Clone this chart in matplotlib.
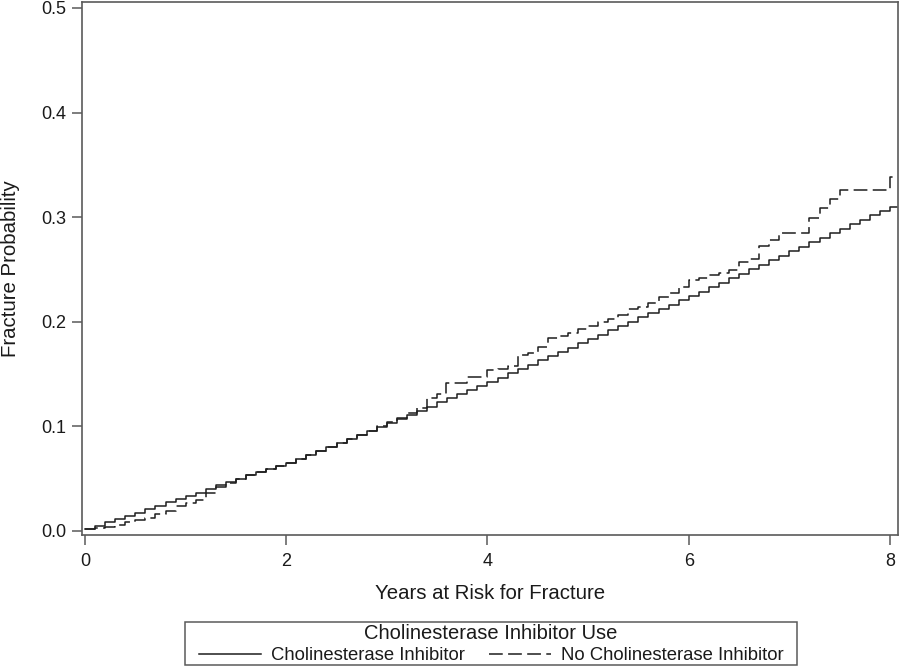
import matplotlib
matplotlib.use("Agg")
import matplotlib.pyplot as plt
from matplotlib.lines import Line2D
from matplotlib.patches import Rectangle

plt.rcParams['font.family'] = ['Liberation Sans', 'DejaVu Sans']

# Step times (years) and cumulative fracture probabilities
t_ci = [0.0, 0.1, 0.2, 0.3, 0.4, 0.5, 0.6, 0.7, 0.8, 0.9,
        1.0, 1.1, 1.2, 1.3, 1.4, 1.5, 1.6, 1.7, 1.8, 1.9,
        2.0, 2.1, 2.2, 2.3, 2.4, 2.5, 2.6, 2.7, 2.8, 2.9,
        3.0, 3.1, 3.2, 3.3, 3.4, 3.5, 3.6, 3.7, 3.8, 3.9,
        4.0, 4.1, 4.2, 4.3, 4.4, 4.5, 4.6, 4.7, 4.8, 4.9,
        5.0, 5.1, 5.2, 5.3, 5.4, 5.5, 5.6, 5.7, 5.8, 5.9,
        6.0, 6.1, 6.2, 6.3, 6.4, 6.5, 6.6, 6.7, 6.8, 6.9,
        7.0, 7.1, 7.2, 7.3, 7.4, 7.5, 7.6, 7.7, 7.8, 7.9,
        8.0, 8.07]
p_ci = [0.0016, 0.0048, 0.0086, 0.0112, 0.0143, 0.0175, 0.0207, 0.0239, 0.0277, 0.0309,
        0.0335, 0.0366, 0.0398, 0.0437, 0.0468, 0.0500, 0.0532, 0.0564, 0.0590, 0.0621,
        0.0653, 0.0685, 0.0724, 0.0762, 0.0800, 0.0840, 0.0878, 0.0916, 0.0955, 0.0995,
        0.1033, 0.1072, 0.1110, 0.1150, 0.1188, 0.1228, 0.1266, 0.1305, 0.1345, 0.1385,
        0.1425, 0.1466, 0.1506, 0.1548, 0.1588, 0.1630, 0.1670, 0.1712, 0.1752, 0.1794,
        0.1834, 0.1876, 0.1916, 0.1958, 0.1998, 0.2040, 0.2080, 0.2122, 0.2162, 0.2204,
        0.2245, 0.2288, 0.2331, 0.2374, 0.2417, 0.2460, 0.2503, 0.2546, 0.2589, 0.2632,
        0.2675, 0.2718, 0.2761, 0.2804, 0.2847, 0.2890, 0.2933, 0.2976, 0.3019, 0.3062,
        0.3100, 0.3100]

t_noci = [0.0, 0.1, 0.2, 0.3, 0.4, 0.5, 0.6, 0.7, 0.8, 0.9,
          1.0, 1.1, 1.2, 1.3, 1.4, 1.5, 1.6, 1.7, 1.8, 1.9,
          2.0, 2.1, 2.2, 2.3, 2.4, 2.5, 2.6, 2.7, 2.8, 2.9,
          3.0, 3.1, 3.2, 3.3, 3.4, 3.5, 3.59, 3.7, 3.8, 3.9,
          4.0, 4.1, 4.2, 4.3, 4.4, 4.5, 4.6, 4.7, 4.8, 4.9,
          5.0, 5.1, 5.2, 5.3, 5.4, 5.5, 5.6, 5.7, 5.8, 5.9,
          6.0, 6.1, 6.2, 6.3, 6.4, 6.5, 6.6, 6.7, 6.8, 6.9,
          7.2, 7.3, 7.4, 7.5, 8.0, 8.07]
p_noci = [0.0016, 0.0025, 0.0035, 0.0060, 0.0089, 0.0100, 0.0125, 0.0160, 0.0194, 0.0233,
          0.0262, 0.0297, 0.0360, 0.0420, 0.0462, 0.0500, 0.0530, 0.0560, 0.0590, 0.0620,
          0.0652, 0.0688, 0.0725, 0.0760, 0.0798, 0.0838, 0.0875, 0.0915, 0.0955, 0.0998,
          0.1040, 0.1080, 0.1125, 0.1173, 0.1268, 0.1310, 0.1410, 0.1410, 0.1475, 0.1475,
          0.1539, 0.1546, 0.1580, 0.1680, 0.1700, 0.1760, 0.1840, 0.1860, 0.1890, 0.1930,
          0.1960, 0.1995, 0.2030, 0.2065, 0.2122, 0.2140, 0.2177, 0.2240, 0.2270, 0.2336,
          0.2397, 0.2420, 0.2447, 0.2470, 0.2495, 0.2575, 0.2600, 0.2725, 0.2780, 0.2852,
          0.2990, 0.3086, 0.3171, 0.3260, 0.3387, 0.3387]

x_ticks = [0, 2, 4, 6, 8]
y_ticks = [0.0, 0.1, 0.2, 0.3, 0.4, 0.5]
y_tick_labels = ["0.0", "0.1", "0.2", "0.3", "0.4", "0.5"]
label_ci = "Cholinesterase Inhibitor"
label_noci = "No Cholinesterase Inhibitor"
legend_title = "Cholinesterase Inhibitor Use"

line_color = "#1e1e1e"
spine_color = "#5a5a5a"
text_color = "#1a1a1a"
dash_style = (0, (9, 3.5))

W, H = 900, 668
fig = plt.figure(figsize=(9, 6.68), dpi=100)
ax = fig.add_axes([82 / W, 1 - 535 / H, 816 / W, 533 / H])

ax.step(t_ci, p_ci, where='post', color=line_color, lw=1.1)
ax.step(t_noci, p_noci, where='post', color=line_color, lw=1.1, linestyle=dash_style)

ax.set_xlim(-0.03, 8.08)
ax.set_ylim(-0.004, 0.5057)
ax.set_xticks(x_ticks)
ax.set_xticklabels([str(v) for v in x_ticks])
ax.set_yticks(y_ticks)
ax.set_yticklabels(y_tick_labels)

for s in ax.spines.values():
    s.set_color(spine_color)
    s.set_linewidth(1.2)
ax.tick_params(direction='out', length=7, width=1.1, color=spine_color,
               labelsize=13, labelcolor=text_color, pad=4)
ax.tick_params(axis='x', pad=6)

ax.set_xlabel("Years at Risk for Fracture", fontsize=14.7, color=text_color)
ax.set_ylabel("Fracture Probability", fontsize=14.7, color=text_color)
ax.xaxis.set_label_coords(0.5, -0.091)
ax.yaxis.set_label_coords(-0.0765, 0.5)

handles = [Line2D([], [], color=line_color, lw=1.1),
           Line2D([], [], color=line_color, lw=1.1, linestyle=dash_style)]
leg = fig.legend(handles, [label_ci, label_noci], ncol=2, title=legend_title,
                 loc='upper center', bbox_to_anchor=(0.5456, 1 - 621 / H),
                 borderaxespad=0,
                 fontsize=13.3, title_fontsize=14.5, frameon=False,
                 handlelength=3.35, handletextpad=0.54,
                 columnspacing=1.3, borderpad=0.15, labelspacing=0.25)
leg.get_title().set_color(text_color)
for txt in leg.get_texts():
    txt.set_color(text_color)

# legend frame box
fig.patches.append(Rectangle((185 / W, 1 - 665 / H), 612 / W, 43 / H,
                             transform=fig.transFigure, fill=False,
                             edgecolor=spine_color, linewidth=1.1))

fig.savefig("out.png", dpi=100)
